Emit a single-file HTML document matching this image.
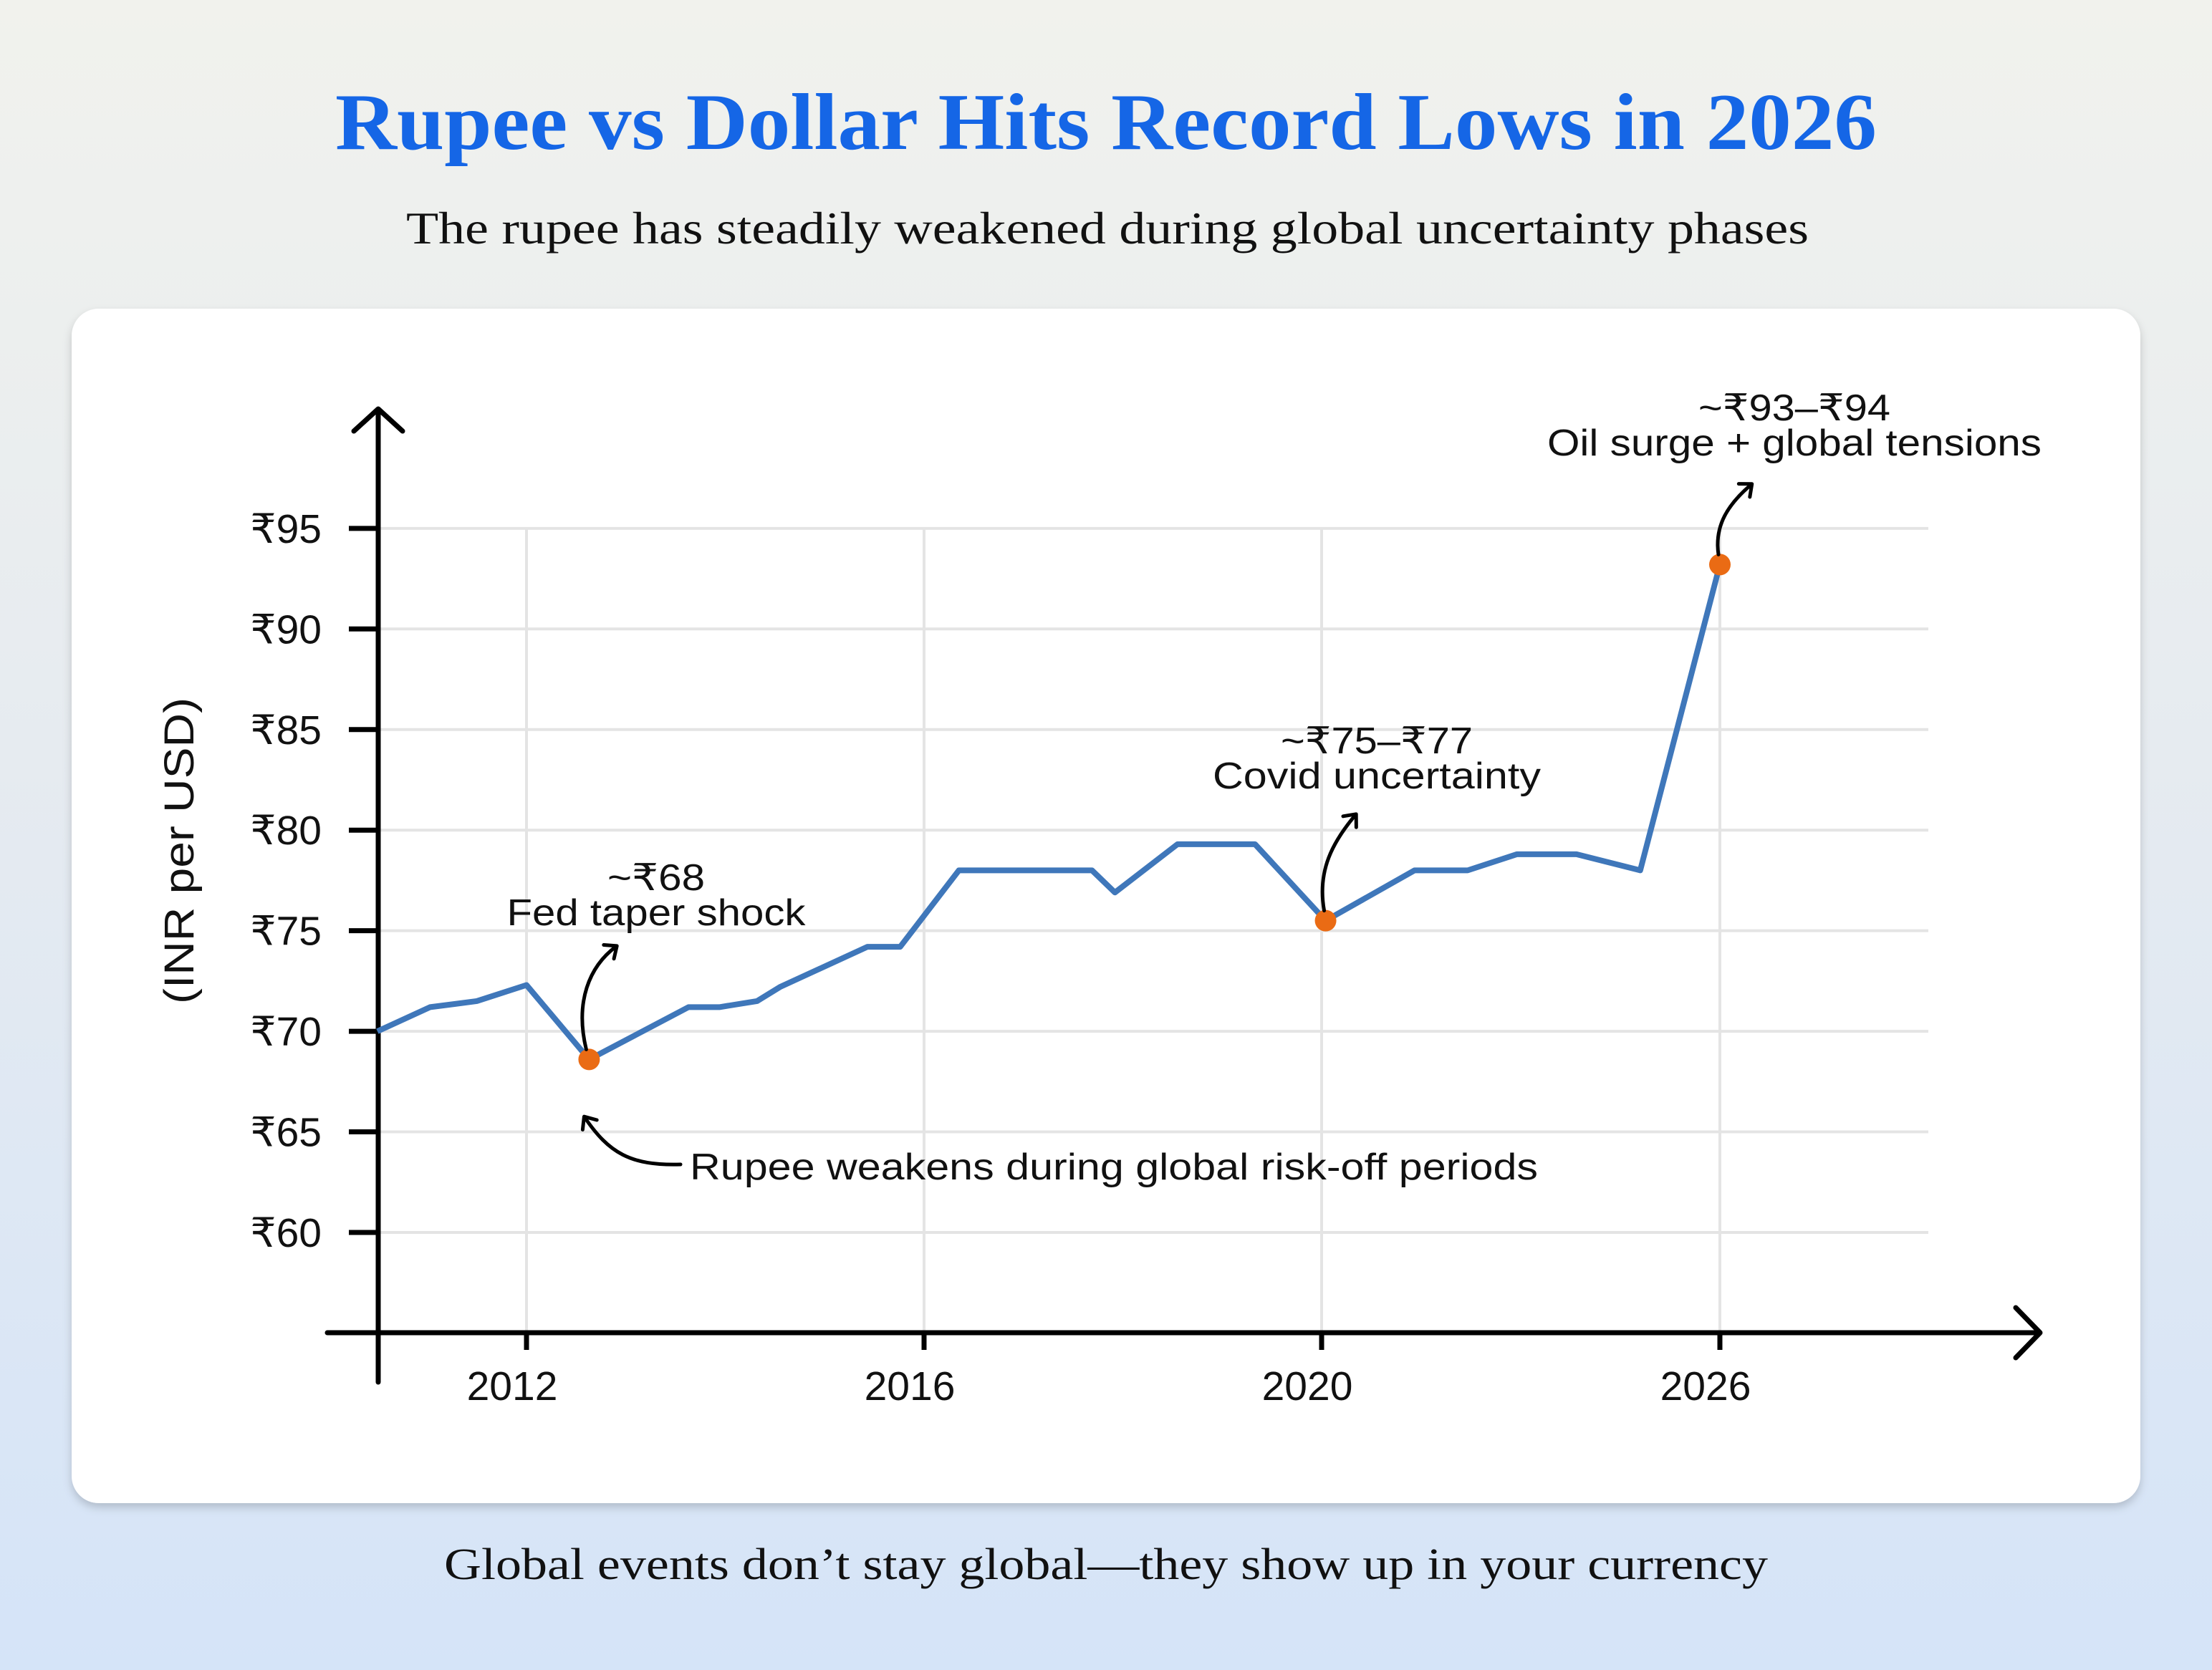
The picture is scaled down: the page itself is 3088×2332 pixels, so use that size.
<!DOCTYPE html>
<html><head><meta charset="utf-8"><style>
html,body{margin:0;padding:0}
body{width:3088px;height:2332px;overflow:hidden;background:linear-gradient(180deg,#f1f2ed 0%,#e6ebf0 45%,#d5e4f8 100%);font-family:"Liberation Sans",sans-serif}
svg{display:block}
</style></head><body>
<svg width="3088" height="2332" viewBox="0 0 3088 2332">
<defs><filter id="sh" x="-5%" y="-5%" width="110%" height="115%"><feDropShadow dx="0" dy="6" stdDeviation="6" flood-color="#000" flood-opacity="0.18"/></filter>
<marker id="ah" viewBox="0 0 30 30" refX="16" refY="15" markerWidth="30" markerHeight="30" orient="auto" markerUnits="userSpaceOnUse"><path d="M3,3 L17,15 L3,27" fill="none" stroke="#000" stroke-width="5" stroke-linecap="round" stroke-linejoin="round"/></marker></defs>
<text x="1544" y="208" text-anchor="middle" font-family="Liberation Serif,serif" font-weight="bold" font-size="112" fill="#1566e6" textLength="2152" lengthAdjust="spacingAndGlyphs">Rupee vs Dollar Hits Record Lows in 2026</text>
<text x="1546" y="340" text-anchor="middle" font-family="Liberation Serif,serif" font-size="64" fill="#111" textLength="1958" lengthAdjust="spacingAndGlyphs">The rupee has steadily weakened during global uncertainty phases</text>
<rect x="100" y="431" width="2888" height="1668" rx="38" fill="#fff" filter="url(#sh)"/>
<g id="grid"></g><g id="axes"></g><g id="series"></g><g id="ann"></g>
<text transform="translate(270,1188) rotate(-90)" text-anchor="middle" font-size="58" fill="#111" textLength="428" lengthAdjust="spacingAndGlyphs">(INR per USD)</text>
<text x="1544" y="2205" text-anchor="middle" font-family="Liberation Serif,serif" font-size="62" fill="#111" textLength="1848" lengthAdjust="spacingAndGlyphs">Global events don’t stay global—they show up in your currency</text>
</svg>
<script>
const yTicks=[60,65,70,75,80,85,90,95];
const yTickLabels=["₹60","₹65","₹70","₹75","₹80","₹85","₹90","₹95"];
const xTicks=[2012,2016,2020,2026];
const xTickLabels=["2012","2016","2020","2026"];
const years=[2010.5,2011.03,2011.5,2012.0,2012.63,2013.63,2013.94,2014.32,2014.55,2015.43,2015.76,2016.35,2017.69,2017.92,2018.55,2019.33,2020.06,2021.4,2022.2,2022.94,2023.84,2024.8,2026.0];
const rates=[70.0,71.2,71.5,72.3,68.6,71.2,71.2,71.5,72.2,74.2,74.2,78.0,78.0,76.9,79.3,79.3,75.5,78.0,78.0,78.8,78.8,78.0,93.2];
const highlightIdx=[4,16,22];
const NS="http://www.w3.org/2000/svg";
const xAnch=[2012,2016,2020,2026], xPix=[735,1290,1845,2401];
function xs(t){let i=0;if(t>=xAnch[2])i=2;else if(t>=xAnch[1])i=1;else i=0;
 const s=(xPix[i+1]-xPix[i])/(xAnch[i+1]-xAnch[i]);return xPix[i]+(t-xAnch[i])*s;}
function ys(v){return 1721-(v-60)*28.09;}
function mk(tag,attrs,parent){const e=document.createElementNS(NS,tag);for(const k in attrs)e.setAttribute(k,attrs[k]);document.getElementById(parent).appendChild(e);return e;}
yTicks.forEach((v,i)=>{
 const g=mk('line',{x1:528,x2:2692,y1:ys(v),y2:ys(v),stroke:'#e4e4e4','stroke-width':4},'grid');
 
 
 const t=mk('line',{x1:487,x2:528,y1:ys(v),y2:ys(v),stroke:'#000','stroke-width':7},'axes');
 
 
 const l=mk('text',{x:449,y:ys(v)+20,'text-anchor':'end','font-size':57,fill:'#111'},'axes');
 
 
 l.textContent=yTickLabels[i];
});
xTicks.forEach((t,i)=>{
 const g=mk('line',{x1:xs(t),x2:xs(t),y1:ys(95),y2:1861,stroke:'#e4e4e4','stroke-width':4},'grid');
 
 
 const k=mk('line',{x1:xs(t),x2:xs(t),y1:1861,y2:1885,stroke:'#000','stroke-width':7},'axes');
 
 
 const l=mk('text',{x:xs(t)-20,y:1955,'text-anchor':'middle','font-size':57,fill:'#111'},'axes');
 
 
 l.textContent=xTickLabels[i];
});
const ya=mk('path',{d:'M528,1930 L528,573 M494,602 L528,571 L562,602',fill:'none',stroke:'#000','stroke-width':7,'stroke-linejoin':'round','stroke-linecap':'round'},'axes');


const xa=mk('path',{d:'M457,1861 L2848,1861 M2814,1826 L2848,1861 L2814,1896',fill:'none',stroke:'#000','stroke-width':7,'stroke-linejoin':'round','stroke-linecap':'round'},'axes');


const line=mk('polyline',{points:years.map((t,i)=>xs(t)+','+ys(rates[i])).join(' '),fill:'none',stroke:'#3f77ba','stroke-width':8,'stroke-linejoin':'round'},'series');


highlightIdx.forEach(i=>{
 const c=mk('circle',{cx:xs(years[i]),cy:ys(rates[i]),r:15,fill:'#ea6b14'},'series');
 
 
});
function txt(x,y,s,w,name){const t=mk('text',{x:x,y:y,'text-anchor':'middle','font-size':52,fill:'#111',textLength:w,lengthAdjust:'spacingAndGlyphs'},'ann');
 
 
 t.textContent=s;}
function arr(d,name){const p=mk('path',{d:d,fill:'none',stroke:'#000','stroke-width':5,'stroke-linecap':'round','marker-end':'url(#ah)'},'ann');
 
 }
const p1x=xs(years[4]),p1y=ys(rates[4]);
txt(916,1243,'~₹68',136,'annotation-taper-value');
txt(916,1292,'Fed taper shock',417,'annotation-taper-label');
arr(`M${p1x-4},${p1y-14} C${p1x-20},${p1y-80} ${p1x},${p1y-130} ${p1x+38},${p1y-158}`,'annotation-taper-arrow');
const p2x=xs(years[16]),p2y=ys(rates[16]);
txt(1922,1052,'~₹75–₹77',268,'annotation-covid-value');
txt(1922,1101,'Covid uncertainty',458,'annotation-covid-label');
arr(`M${p2x-2},${p2y-14} C${p2x-12},${p2y-70} ${p2x+10},${p2y-110} ${p2x+42},${p2y-148}`,'annotation-covid-arrow');
const p3x=xs(years[22]),p3y=ys(rates[22]);
txt(2505,587,'~₹93–₹94',268,'annotation-oil-value');
txt(2505,636,'Oil surge + global tensions',690,'annotation-oil-label');
arr(`M${p3x-2},${p3y-14} C${p3x-8},${p3y-55} ${p3x+12},${p3y-85} ${p3x+44},${p3y-112}`,'annotation-oil-arrow');
const r=mk('text',{x:963,y:1647,'font-size':52,fill:'#111',textLength:1184,lengthAdjust:'spacingAndGlyphs'},'ann');


r.textContent='Rupee weakens during global risk-off periods';
arr('M950,1626 C880,1628 850,1610 816,1560','annotation-riskoff-arrow');
</script>
</body></html>
